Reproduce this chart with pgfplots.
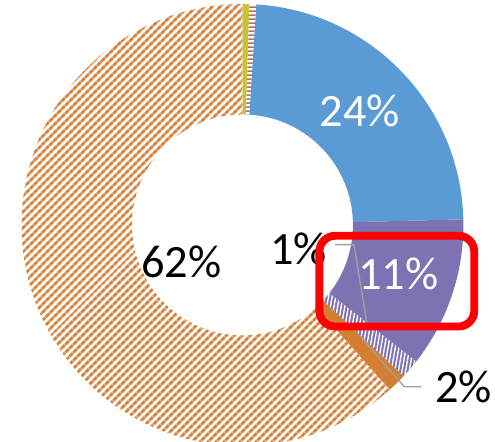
\documentclass[border=0pt]{standalone}
\usepackage{pgfplots}
\pgfplotsset{compat=1.18}
\usepackage{pgfplotstable}
\usepackage{fontspec}
\setmainfont{Carlito}
\usetikzlibrary{patterns.meta}

\definecolor{cblue}{RGB}{91,155,213}
\definecolor{cpurple}{RGB}{127,114,178}
\definecolor{corange}{RGB}{212,126,50}
\definecolor{chatch}{RGB}{214,128,58}
\definecolor{cyellow}{RGB}{200,196,50}
\definecolor{cbrown}{RGB}{180,112,96}
\definecolor{cgrayline}{RGB}{160,160,160}

\tikzset{
  s0/.style={fill=cyellow},
  s1/.style={fill=white, postaction={pattern={Lines[angle=0,distance=4pt,line width=1.6pt]}, pattern color=cbrown}},
  s2/.style={fill=cblue},
  s3/.style={fill=cpurple},
  s4/.style={fill=cpurple, postaction={pattern={Lines[angle=80,distance=3.6pt,line width=1.4pt]}, pattern color=white}},
  s5/.style={fill=corange},
  s6/.style={fill=white, postaction={pattern={Lines[angle=45,distance=5.4pt,line width=3.1pt]}, pattern color=chatch}},
}

\pgfplotstableread{
share
0.5
0.5
23.6
11.0
1.4
1.4
61.6
}\slices

\def\Ro{224}
\def\Ri{112}

\begin{document}
\def\cum{0}
\pgfplotsforeachungrouped \i in {0,...,6}{%
  \pgfplotstablegetelem{\i}{share}\of\slices
  \pgfmathsetmacro\aStart{90-3.6*\cum}%
  \pgfmathsetmacro\cum{\cum+\pgfplotsretval}%
  \pgfmathsetmacro\aEnd{90-3.6*\cum}%
  \expandafter\let\csname sa\i\endcsname\aStart
  \expandafter\let\csname se\i\endcsname\aEnd
}
\newcommand\slice[1]{%
  \edef\tmp{\noexpand\fill[s#1] (axis cs:{\Ro*cos(\csname sa#1\endcsname)},{\Ro*sin(\csname sa#1\endcsname)}) arc[start angle=\csname sa#1\endcsname, end angle=\csname se#1\endcsname, radius=\Ro pt] -- (axis cs:{\Ri*cos(\csname se#1\endcsname)},{\Ri*sin(\csname se#1\endcsname)}) arc[start angle=\csname se#1\endcsname, end angle=\csname sa#1\endcsname, radius=\Ri pt] -- cycle;}%
  \tmp}
\begin{tikzpicture}
\begin{axis}[
  disabledatascaling,
  x=1pt, y=1pt,
  xmin=-239, xmax=256, ymin=-220, ymax=228,
  hide axis,
]
\slice{0}
\slice{1}
\slice{2}
\slice{3}
\slice{4}
\slice{5}
\slice{6}
% leader lines
\draw[cgrayline, line width=1.4pt] (axis cs:94,-20) -- (axis cs:113,-20) -- (axis cs:126,-99);
\draw[cgrayline, line width=1.4pt] (axis cs:121,-115) -- (axis cs:164,-164) -- (axis cs:181,-164);
% labels
\node[text=white, font=\fontsize{47}{47}\selectfont] at (axis cs:119,116) {24\%};
\node[text=white, font=\fontsize{47}{47}\selectfont] at (axis cs:158,-50) {11\%};
\node[text=black, font=\fontsize{47}{47}\selectfont] at (axis cs:-62,-37) {62\%};
\node[text=black, font=\fontsize{47}{47}\selectfont] at (axis cs:57,-24) {1\%};
\node[text=black, font=\fontsize{47}{47}\selectfont] at (axis cs:224,-164) {2\%};
% highlight box
\draw[red, line width=8pt, rounded corners=16pt] (axis cs:78,-11) rectangle (axis cs:235,-103);
\end{axis}
\pgfresetboundingbox
\path (current axis.south west) rectangle (current axis.north east);
\end{tikzpicture}
\end{document}
